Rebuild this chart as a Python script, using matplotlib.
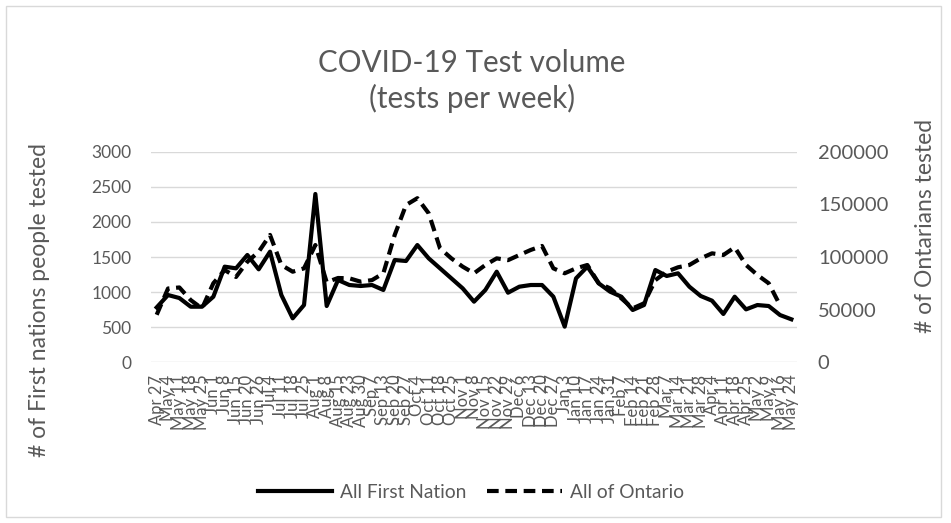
import numpy as np
import matplotlib

matplotlib.use("Agg")
import matplotlib.pyplot as plt
from matplotlib.lines import Line2D
from matplotlib.patches import Rectangle

weeks = [
    "Apr 27", "May 4", "May 11", "May 18", "May 25", "Jun 1", "Jun 8", "Jun 15",
    "Jun 20", "Jun 26", "Jul 4", "Jul 11", "Jul 18", "Jul 25", "Aug 1", "Aug 8",
    "Aug 15", "Aug 23", "Aug 30", "Sep 7", "Sep 13", "Sep 20", "Sep 27", "Oct 4",
    "Oct 11", "Oct 18", "Oct 25", "Nov 1", "Nov 8", "Nov 15", "Nov 22", "Nov 29",
    "Dec 6", "Dec 13", "Dec 20", "Dec 27", "Jan 3", "Jan 10", "Jan 17", "Jan 24",
    "Jan 31", "Feb 7", "Feb 14", "Feb 21", "Feb 28", "Mar 7", "Mar 14", "Mar 21",
    "Mar 28", "Apr 4", "Apr 11", "Apr 18", "Apr 25", "May 2", "May 9", "May 16",
    "May 24",
]

first_nation = [
    780, 957, 914, 790, 790, 933, 1362, 1338, 1529, 1324,
    1576, 957, 624, 814, 2400, 800, 1171, 1100, 1086, 1100,
    1029, 1457, 1443, 1671, 1481, 1338, 1195, 1052, 862, 1029,
    1290, 990, 1076, 1100, 1100, 933, 505, 1195, 1362, 1124,
    1005, 933, 743, 814, 1314, 1229, 1267, 1076, 943, 876,
    686, 933, 752, 814, 800, 671, 610,
]

ontario = [
    45000, 70000, 71000, 59000, 51000, 75000, 87600, 81000, 95500, 105000,
    121000, 92400, 86000, 89200, 111400, 76000, 80000, 79700, 76500, 78000,
    84500, 121000, 149500, 156000, 141600, 108300, 98700, 90800, 84500, 92400,
    98700, 97000, 101900, 106700, 110500, 89200, 84500, 89200, 92400, 75000,
    70200, 60600, 51100, 55900, 78000, 86000, 90200, 92400, 98700, 103500,
    101900, 109200, 92400, 82900, 75000, 54000, np.nan,
]

grey = "#595959"
plt.rcParams["font.family"] = ["Lato", "DejaVu Sans"]

fig = plt.figure(figsize=(9.51, 5.23), dpi=100)
fig.patches.append(Rectangle((0.006, 0.012), 0.983, 0.976, transform=fig.transFigure,
                             fill=False, edgecolor="#d9d9d9", linewidth=1))

ax = fig.add_axes([0.1588, 0.3078, 0.6793, 0.4016])
ax2 = ax.twinx()

x = np.arange(len(weeks))
ax.plot(x, first_nation, color="black", linewidth=3, solid_joinstyle="round", zorder=3)
ax2.plot(x, ontario, color="black", linewidth=3, dashes=(2.8, 1.6), dash_capstyle="butt", zorder=3)

ax.set_xlim(-0.5, len(weeks) - 0.5)
ax.set_ylim(0, 3000)
ax.set_yticks(np.arange(0, 3001, 500))
ax2.set_ylim(0, 200000)
ax2.set_yticks(np.arange(0, 200001, 50000))

ax.yaxis.grid(True, color="#d9d9d9", linewidth=1)
ax.set_axisbelow(True)
for a in (ax, ax2):
    for s in a.spines.values():
        s.set_visible(False)
    a.tick_params(length=0, colors=grey)
ax.tick_params(axis="y", labelsize=12.5, pad=14)
ax2.tick_params(axis="y", labelsize=14.5, pad=15)

ax.set_xticks(x)
ax.set_xticklabels(weeks, rotation=90, fontsize=12, color=grey)
ax.tick_params(axis="x", pad=9)

# axis titles placed like Excel does (centred on the whole axis block)
fig.text(0.042, 0.426, "# of First nations people tested", rotation=90, ha="center",
         va="center", fontsize=16.5, color=grey)
fig.text(0.973, 0.568, "# of Ontarians tested", rotation=90, ha="center",
         va="center", fontsize=16.5, color=grey)

fig.text(0.496, 0.845, "COVID-19 Test volume\n(tests per week)", ha="center", va="center",
         fontsize=21.3, color=grey, linespacing=1.3)

handles = [
    Line2D([], [], color="black", linewidth=3),
    Line2D([], [], color="black", linewidth=3, dashes=(2.8, 1.6)),
]
fig.legend(handles, ["All First Nation", "All of Ontario"], loc="center",
           bbox_to_anchor=(0.495, 0.059), ncol=2, frameon=False, fontsize=13.8,
           handlelength=3.9, handletextpad=0.4, columnspacing=1.1, labelcolor=grey)

fig.savefig("out.png", dpi=100)
